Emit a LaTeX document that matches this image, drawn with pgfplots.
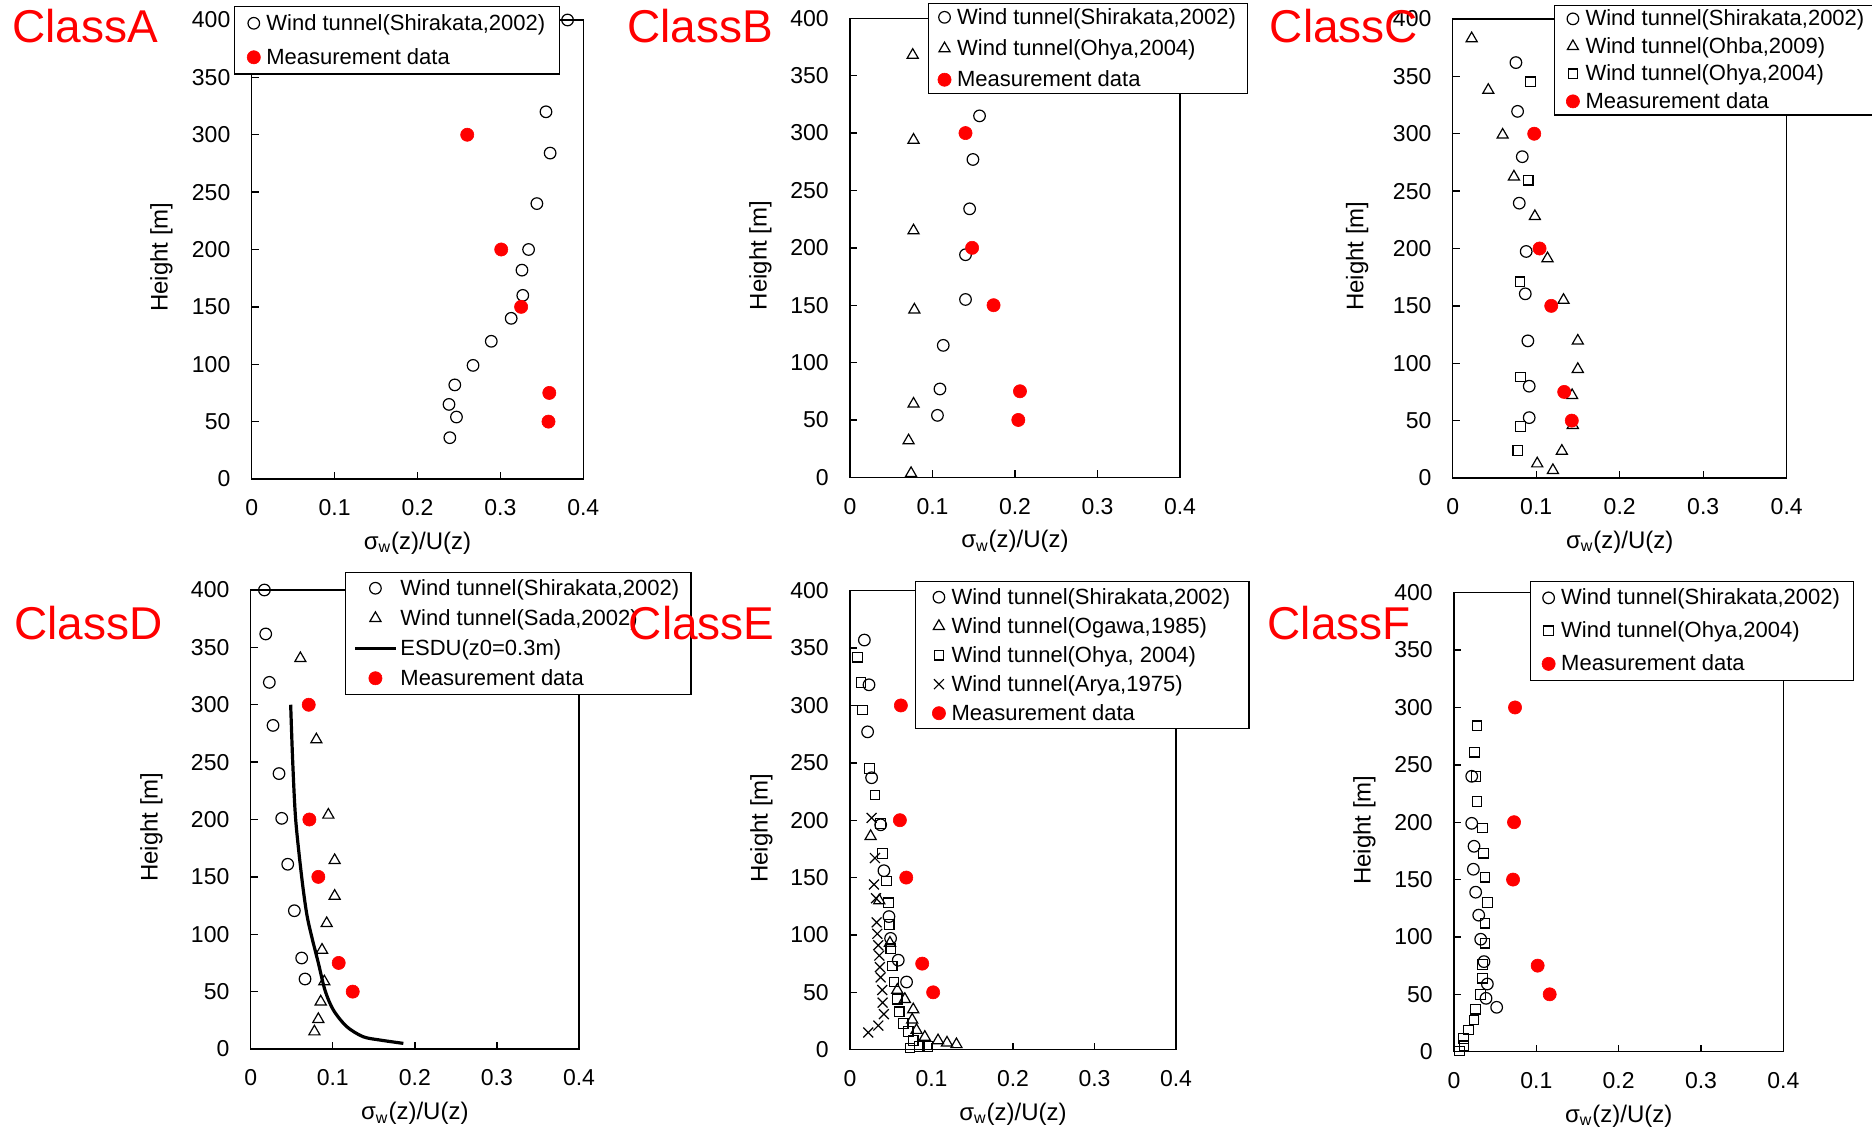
\documentclass[border=0pt]{standalone}
\usepackage{fontspec}
\setmainfont{Liberation Sans}
\usepackage{pgfplots}
\pgfplotsset{compat=1.18}

\definecolor{measred}{RGB}{255,0,0}

\pgfplotsset{
  % common frame of every profile panel
  profile/.style={
    scale only axis, height=229.5pt, anchor=north west,
    xmin=0, xmax=0.4, ymin=0, ymax=400,
    xtick={0,0.1,0.2,0.3,0.4},
    ytick={0,50,100,150,200,250,300,350,400},
    line width=0.7pt,
    tick align=inside, xtick pos=bottom, ytick pos=left,
    major tick length=3.5pt,
    tick style={black, line width=0.7pt},
    /pgf/number format/assume math mode=true,
    tick label style={font=\fontsize{11.5}{13.8}\selectfont},
    xticklabel style={yshift=-6.7pt},
    yticklabel style={xshift=-7pt},
    xlabel={σ\textsubscript{w}(z)/U(z)},
    ylabel={Height [m]},
    label style={font=\fontsize{12}{14}\selectfont},
    xlabel style={at={(axis description cs:0.5,0)}, anchor=base, yshift=-35.2pt},
    legend cell align=left,
    legend style={draw=black, line width=0.6pt, fill=white,
      font=\fontsize{11}{13}\selectfont, anchor=north west,
      cells={anchor=west},
      nodes={inner xsep=2pt, inner ysep=0pt, text height=9pt, text depth=2pt}},
    legend image code/.code={%
      \path (0pt,0pt) (8pt,0pt);
      \draw[mark repeat=2,mark phase=2,##1] plot coordinates {(0pt,0pt) (4pt,0pt) (8pt,0pt)};},
  },
  ylabx/.style={ylabel style={at={(axis description cs:-#1,0.483)}, anchor=base}},
  % legend box: x, y (axis description cs), inner xsep, inner ysep, row sep
  legbox/.style n args={5}{legend style={at={(axis description cs:#1,#2)},
      inner xsep=#3, inner ysep=#4, row sep=#5}},
  wtcirc/.style={only marks, mark=o, mark size=2.9pt, black, mark options={line width=0.6pt}},
  wttri/.style={only marks, mark=triangle, mark size=3.2pt, black, mark options={line width=0.6pt}},
  wtsq/.style={only marks, mark=square, mark size=2.4pt, black, mark options={line width=0.6pt}},
  wtx/.style={only marks, mark=x, mark size=3.5pt, black, mark options={line width=0.6pt}},
  meas/.style={only marks, mark=*, mark size=3.3pt, color=measred,
    mark options={fill=measred, draw=measred, line width=0.3pt}},
}

\begin{document}
\begin{tikzpicture}[font=\fontsize{11.5}{13.8}\selectfont]
\path[use as bounding box] (0pt,0pt) rectangle (936pt,-563.5pt);

% ---------------- Class A ----------------
\begin{axis}[profile, width=165.8pt, at={(125.85pt,-10pt)}, ylabx=0.2533,
  legbox={-0.0534}{1.0305}{5.3pt}{2.85pt}{6pt}]
\addplot[wtcirc] coordinates {(0.381,400) (0.364,364) (0.355,320) (0.360,284)
  (0.344,240) (0.334,200) (0.326,182) (0.327,160) (0.313,140) (0.289,120)
  (0.267,99) (0.245,82) (0.238,65) (0.247,54) (0.239,36)};
\addlegendentry{Wind tunnel(Shirakata,2002)}
\addplot[meas] coordinates {(0.260,300) (0.301,200) (0.325,150) (0.359,75) (0.358,50)};
\addlegendentry{Measurement data}
\end{axis}

% ---------------- Class B ----------------
\begin{axis}[profile, width=165pt, at={(425pt,-9.17pt)}, ylabx=0.2527,
  legbox={0.2355}{1.034}{3.8pt}{1.5pt}{4.6pt}]
\addplot[wtcirc] coordinates {(0.157,315) (0.149,277) (0.145,234) (0.140,194)
  (0.140,155) (0.113,115) (0.109,77) (0.106,54)};
\addlegendentry{Wind tunnel(Shirakata,2002)}
\addplot[wttri] coordinates {(0.076,368) (0.077,294) (0.077,215) (0.078,146)
  (0.077,64) (0.071,32) (0.074,3.5)};
\addlegendentry{Wind tunnel(Ohya,2004)}
\addplot[meas] coordinates {(0.140,300) (0.148,200) (0.174,150) (0.206,75) (0.204,50)};
\addlegendentry{Measurement data}
\end{axis}

% ---------------- Class C ----------------
\begin{axis}[profile, width=167pt, at={(726.35pt,-9.5pt)}, ylabx=0.2677,
  legbox={0.3024}{1.0312}{5pt}{1.3pt}{2.75pt}]
\addplot[wtcirc] coordinates {(0.0757,362) (0.0777,319.5) (0.0833,280) (0.0797,239.5)
  (0.088,197.4) (0.0869,160.5) (0.090,119.5) (0.0916,80) (0.0916,52.6)};
\addlegendentry{Wind tunnel(Shirakata,2002)}
\addplot[wttri] coordinates {(0.0227,383) (0.0426,338) (0.0598,299) (0.0733,262.5)
  (0.0984,228) (0.1135,191.3) (0.1327,155) (0.1498,119.5) (0.1498,94.8) (0.143,72)
  (0.1438,46) (0.1307,23.5) (0.1012,12.5) (0.12,6.7)};
\addlegendentry{Wind tunnel(Ohba,2009)}
\addplot[wtsq] coordinates {(0.0932,345.3) (0.0904,259.6) (0.0805,171) (0.0813,88)
  (0.0813,45) (0.078,24.1)};
\addlegendentry{Wind tunnel(Ohya,2004)}
\addplot[meas] coordinates {(0.0976,300) (0.104,200) (0.118,150) (0.1335,75) (0.1426,50)};
\addlegendentry{Measurement data}
\end{axis}

% ---------------- Class D ----------------
\begin{axis}[profile, width=164.15pt, at={(125.35pt,-295pt)}, ylabx=0.2833,
  legbox={0.287}{1.04}{4.15pt}{2.5pt}{4pt},
  legend style={nodes={inner xsep=1.7pt}},
  legend image code/.code={%
    \path (0pt,0pt) (20pt,0pt);
    \draw[mark repeat=2,mark phase=2,#1] plot coordinates {(0pt,0pt) (10pt,0pt) (20pt,0pt)};}]
\addplot[wtcirc] coordinates {(0.0167,400) (0.0183,361.7) (0.0227,319.5) (0.0272,282)
  (0.0345,240) (0.0378,201) (0.0451,161) (0.0532,120.5) (0.0621,79.3) (0.0662,61)};
\addlegendentry{Wind tunnel(Shirakata,2002)}
\addplot[wttri] coordinates {(0.0605,340.4) (0.08,269.6) (0.0946,204) (0.1023,164.4)
  (0.1023,133.3) (0.0926,109.5) (0.0869,86.3) (0.0897,58.7) (0.0853,41.2)
  (0.0824,25.9) (0.0776,15.1)};
\addlegendentry{Wind tunnel(Sada,2002)}
\addplot[black, line width=1.6pt, smooth, no marks] coordinates {(0.0487,300) (0.0512,250)
  (0.0548,200) (0.0621,150) (0.0682,118) (0.0743,98) (0.0824,75) (0.0906,51)
  (0.1007,34) (0.117,19.5) (0.137,10.7) (0.1576,7.8) (0.186,4.9)};
\addlegendentry{ESDU(z0=0.3m)}
\addplot[meas] coordinates {(0.0707,300) (0.0715,200) (0.0824,150) (0.1072,75) (0.1243,50)};
\addlegendentry{Measurement data}
\end{axis}

% ---------------- Class E ----------------
\begin{axis}[profile, width=163pt, at={(425pt,-295.35pt)}, ylabx=0.2528,
  legbox={0.1994}{1.0211}{7.35pt}{2.3pt}{3.5pt}]
\addplot[wtcirc] coordinates {(0.0176,357) (0.0233,318) (0.0216,277) (0.0265,237)
  (0.0376,196) (0.0416,156) (0.0478,116) (0.0498,97) (0.0592,78) (0.0694,59)};
\addlegendentry{Wind tunnel(Shirakata,2002)}
\addplot[wttri] coordinates {(0.0253,186) (0.0359,130) (0.049,93) (0.058,52)
  (0.0673,44) (0.0776,35) (0.0763,26) (0.0816,17) (0.0918,11) (0.108,8)
  (0.119,6) (0.1306,4.6)};
\addlegendentry{Wind tunnel(Ogawa,1985)}
\addplot[wtsq] coordinates {(0.009,342) (0.0135,320) (0.0155,296) (0.0237,245)
  (0.0306,222) (0.0376,197) (0.04,171) (0.0449,147) (0.0473,128) (0.048,109)
  (0.05,88) (0.0518,73) (0.0539,59) (0.058,44) (0.0604,33) (0.0653,23)
  (0.0714,16) (0.0776,8) (0.0735,1.4) (0.0849,2.9) (0.0951,2.9)};
\addlegendentry{Wind tunnel(Ohya, 2004)}
\addplot[wtx] coordinates {(0.0265,202) (0.0306,167) (0.0294,144) (0.0318,132)
  (0.0327,111) (0.0335,101) (0.0347,91) (0.0359,82) (0.0367,72) (0.0376,63)
  (0.0396,52) (0.04,41) (0.0416,31) (0.0347,21) (0.0224,15)};
\addlegendentry{Wind tunnel(Arya,1975)}
\addplot[meas] coordinates {(0.0624,300) (0.0612,200) (0.069,150) (0.0886,75) (0.102,50)};
\addlegendentry{Measurement data}
\end{axis}

% ---------------- Class F ----------------
\begin{axis}[profile, width=164.65pt, at={(727pt,-296.35pt)}, ylabx=0.2533,
  legbox={0.2299}{1.0262}{4.85pt}{2.8pt}{5.5pt}]
\addplot[wtcirc] coordinates {(0.0215,240) (0.0215,199) (0.0243,179) (0.0235,159)
  (0.0263,139) (0.03,119) (0.0324,98) (0.0364,78.5) (0.0405,59) (0.0389,46.5)
  (0.0518,38.7)};
\addlegendentry{Wind tunnel(Shirakata,2002)}
\addplot[wtsq] coordinates {(0.0279,284) (0.0251,261) (0.0267,240) (0.0279,218)
  (0.0348,195) (0.0356,173) (0.0377,152) (0.0405,130) (0.0377,112) (0.0377,94.5)
  (0.0348,76) (0.0344,64) (0.0324,50) (0.0263,37) (0.0243,27.6) (0.0174,19)
  (0.0113,11.6) (0.0121,5.2) (0.0065,0.6)};
\addlegendentry{Wind tunnel(Ohya,2004)}
\addplot[meas] coordinates {(0.0741,300) (0.0729,200) (0.0717,150) (0.1016,75) (0.1162,50)};
\addlegendentry{Measurement data}
\end{axis}

% panel titles
\begin{scope}[every node/.style={anchor=base west, inner sep=0pt, text=measred,
    font=\fontsize{23}{27}\selectfont}]
\node at (6pt,-21.35pt) {ClassA};
\node at (313.5pt,-21.35pt) {ClassB};
\node at (634.7pt,-21.35pt) {ClassC};
\node at (7pt,-319.65pt) {ClassD};
\node at (314.2pt,-319.65pt) {ClassE};
\node at (633.6pt,-319.65pt) {ClassF};
\end{scope}
\end{tikzpicture}
\end{document}
